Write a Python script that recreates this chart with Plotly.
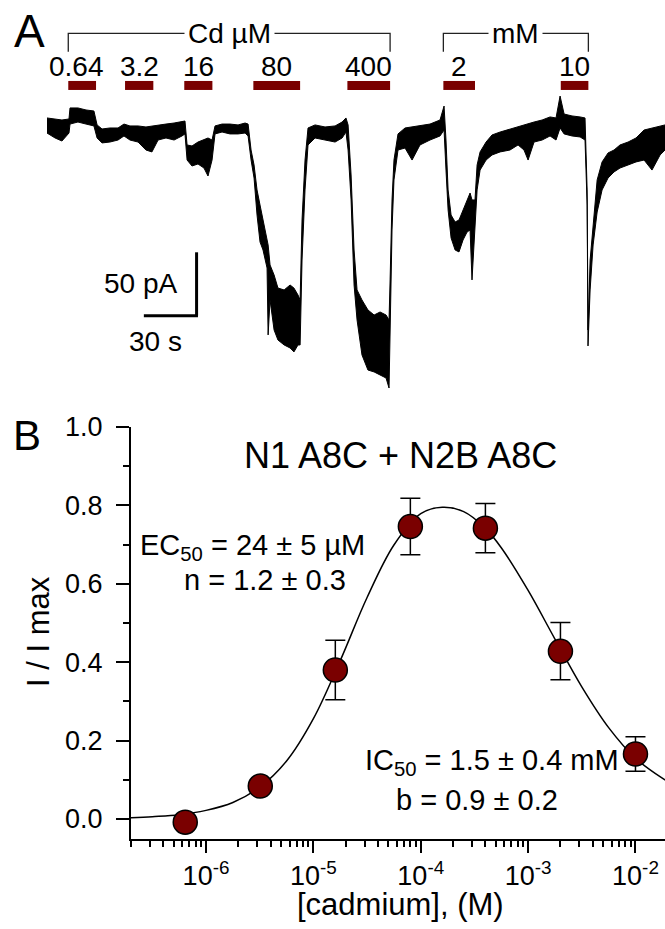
import plotly.graph_objects as go

# ---------------- Panel A: current trace (time in s, current in pA) ----------------
trace_t = [0, 4.6, 8.5, 12.5, 13.1, 17.6, 22.2, 26.7, 28.5, 31.3, 35.8, 40.4, 43.8, 47.2, 51.8, 56.3,
           59.7, 63.2, 67.7, 72.3, 76.8, 78.5, 79.7, 82.5, 85.9, 89.3, 91.6, 93.9, 95.6, 99.6, 104.1,
           108.7, 112.7, 114.4, 116.1, 117.8, 119.5, 121.2, 122.9, 125.2, 125.8, 126.9, 129.2, 131.4,
           134.9, 138.3, 140.5, 142.8, 144.0, 145.1, 146.8, 148.5, 152.5, 158.2, 163.9, 167.9, 170.1,
           171.3, 173.0, 174.7, 176.4, 179.2, 182.6, 186.1, 189.5, 192.9, 194.6, 195.2, 196.3, 197.4,
           199.7, 203.7, 207.7, 212.2, 217.9, 223.6, 225.9, 227.0, 228.2, 229.9, 232.2, 234.4, 236.7,
           239.0, 240.7, 241.8, 243.5, 244.7, 246.4, 249.8, 253.2, 257.8, 263.4, 268.0, 271.4, 273.7,
           277.1, 281.7, 286.2, 289.6, 291.9, 294.2, 298.7, 303.3, 306.1, 307.3, 307.8, 309.0, 310.7,
           313.0, 315.8, 319.2, 322.6, 326.0, 330.6, 335.1, 339.7, 344.2, 348.8, 351.6]
trace_hi = [1.6, 0.8, 0.0, 0.8, 9.5, 9.5, 7.9, 7.1, -3.9, -7.1, -6.3, -6.3, -3.2, -4.7, -4.7, -5.5,
            -4.7, -3.9, -3.2, -2.4, -0.8, -0.8, -19.7, -20.5, -17.4, -15.8, -14.2, -15.8, -4.7, -3.2, -3.2,
            -3.9, -2.4, -3.2, -23.7, -35.5, -55.2, -67.1, -78.9, -93.1, -98.6, -114.4, -122.3, -132.6,
            -134.1, -130.2, -132.6, -138.1, -142.0, -78.9, -31.6, -6.3, -3.9, -5.5, -4.7, -1.6, 1.6,
            -3.9, -43.4, -102.6, -134.1, -142.0, -149.9, -153.9, -151.5, -153.9, -157.8, -126.2, -63.1, -31.6,
            -11.0, -6.3, -5.5, -4.7, -3.2, 0.0, 11.0, -15.8, -55.2, -75.0, -80.5, -78.9, -71.0,
            -63.1, -57.6, -63.1, -63.1, -35.5, -25.2, -17.4, -11.8, -9.5, -7.1, -5.5, -3.9, -3.2,
            -1.6, 0.0, 2.4, 1.6, 18.9, 4.7, 3.2, 2.4, 1.6, -55.2, -165.7, -110.5, -85.2,
            -47.3, -33.1, -26.0, -23.7, -19.7, -17.4, -14.2, -7.9, -6.3, -4.7, -3.9]
trace_lo = [-10.3, -14.2, -16.6, -10.3, -3.2, -1.6, -3.2, -4.7, -14.2, -18.1, -17.4, -15.8, -12.6, -15.8, -17.4, -23.7,
            -25.2, -15.8, -14.2, -15.8, -12.6, -11.0, -31.6, -36.3, -34.7, -37.9, -44.2, -31.6, -11.0, -9.5, -11.0,
            -11.0, -10.3, -12.6, -31.6, -45.8, -75.0, -96.3, -102.6, -116.8, -169.6, -142.0, -165.7, -173.6,
            -177.5, -179.9, -183.0, -177.5, -177.5, -110.5, -55.2, -19.7, -14.2, -15.8, -17.4, -14.2, -9.5,
            -23.7, -63.1, -130.2, -157.8, -185.4, -197.3, -198.8, -201.2, -203.6, -211.5, -165.7, -86.8, -47.3,
            -23.7, -22.1, -31.6, -19.7, -15.8, -12.6, -7.9, -39.5, -71.0, -93.1, -102.6, -104.1, -94.7,
            -88.4, -86.8, -126.2, -82.8, -55.2, -39.5, -31.6, -27.6, -25.2, -23.7, -19.7, -23.7, -31.6,
            -17.4, -15.8, -12.6, -15.8, -6.3, -11.0, -12.6, -13.4, -15.8, -67.1, -178.3, -134.1, -98.6,
            -72.6, -55.2, -45.8, -41.0, -37.9, -35.5, -33.1, -31.6, -39.5, -27.6, -23.7]

# Cd application periods (s) and labels
app_labels = ["0.64", "3.2", "16", "80", "400", "2", "10"]
app_on = [12.1, 44.4, 78.1, 117.4, 170.9, 225.5, 292.3]
app_off = [27.9, 60.5, 94.1, 144.0, 195.2, 243.5, 308.0]
group_labels = ["Cd µM", "mM"]

scale_t = 30   # s
scale_i = 50   # pA

# ---------------- Panel B: dose response ----------------
conc_M = [0.64e-6, 3.2e-6, 16e-6, 80e-6, 400e-6, 2e-3, 10e-3]
i_rel = [-0.008, 0.084, 0.380, 0.746, 0.742, 0.428, 0.166]
i_err = [0.010, 0.010, 0.076, 0.072, 0.063, 0.073, 0.044]

fit_logc = [-6.7, -6.5, -6.25, -6.0, -5.75, -5.5, -5.25, -5.0, -4.75, -4.5, -4.25, -4.0, -3.8,
            -3.6, -3.4, -3.25, -3.0, -2.75, -2.5, -2.25, -2.0, -1.75, -1.7]
fit_rel = [0.003, 0.006, 0.011, 0.022, 0.042, 0.081, 0.148, 0.256, 0.404, 0.565, 0.699, 0.779, 0.795,
           0.784, 0.742, 0.692, 0.583, 0.459, 0.337, 0.233, 0.155, 0.104, 0.096]

xtick_vals = [1e-6, 1e-5, 1e-4, 1e-3, 1e-2]
xtick_text = ["10<sup>-6</sup>", "10<sup>-5</sup>", "10<sup>-4</sup>", "10<sup>-3</sup>", "10<sup>-2</sup>"]
ytick_vals = [0.0, 0.2, 0.4, 0.6, 0.8, 1.0]
ytick_text = ["0.0", "0.2", "0.4", "0.6", "0.8", "1.0"]

DARKRED = "#7a0000"
FONT = "Liberation Sans, Arial, sans-serif"
W, H = 665, 929


def px(x):
    return x / W


def py(y):
    return 1 - y / H


fig = go.Figure()

# trace band
fig.add_trace(go.Scatter(x=trace_t, y=trace_hi, mode="lines", line=dict(color="black", width=1),
                         xaxis="x2", yaxis="y2", hoverinfo="skip", showlegend=False))
fig.add_trace(go.Scatter(x=trace_t, y=trace_lo, mode="lines", line=dict(color="black", width=1),
                         fill="tonexty", fillcolor="black",
                         xaxis="x2", yaxis="y2", hoverinfo="skip", showlegend=False))

# fit curve
fig.add_trace(go.Scatter(x=[10 ** v for v in fit_logc], y=fit_rel, mode="lines",
                         line=dict(color="black", width=1.5, shape="spline"),
                         hoverinfo="skip", showlegend=False))
# data points
fig.add_trace(go.Scatter(x=conc_M, y=i_rel, mode="markers",
                         marker=dict(size=24, color=DARKRED, line=dict(color="black", width=1.5)),
                         error_y=dict(type="data", array=i_err, color="black", thickness=1.5, width=10),
                         showlegend=False, cliponaxis=False))

shapes = []
# application bars
bar_y0, bar_y1 = 23.7, 30.8
for on, off in zip(app_on, app_off):
    shapes.append(dict(type="rect", xref="x2", yref="y2", x0=on, x1=off, y0=bar_y0, y1=bar_y1,
                       fillcolor=DARKRED, line=dict(width=0)))

# brackets
br_lo, br_hi = 53.9, 68.4
groups = [(app_on[0], app_off[4]), (app_on[5], app_off[6])]
for (a, b) in groups:
    shapes.append(dict(type="path", xref="x2", yref="y2",
                       path=f"M {a},{br_lo} L {a},{br_hi} L {b},{br_hi} L {b},{br_lo}",
                       line=dict(color="#222222", width=1.3)))

# scale bar
sb_t, sb_i = 85.1, -154.4
shapes.append(dict(type="line", xref="x2", yref="y2", x0=sb_t - scale_t, x1=sb_t + 0.8, y0=sb_i, y1=sb_i,
                   line=dict(color="black", width=3)))
shapes.append(dict(type="line", xref="x2", yref="y2", x0=sb_t, x1=sb_t, y0=sb_i, y1=sb_i + scale_i,
                   line=dict(color="black", width=3)))

ann = []
for i, (lab, on, off) in enumerate(zip(app_labels, app_on, app_off)):
    ann.append(dict(x=(on + off) / 2, y=42.1, xref="x2", yref="y2", text=lab, showarrow=False,
                    xanchor="center", yanchor="middle", xshift=-6 if i == 0 else 0,
                    font=dict(size=28, color="black", family=FONT)))
for lab, (a, b) in zip(group_labels, groups):
    ann.append(dict(x=(a + b) / 2, y=br_hi, xref="x2", yref="y2", text=lab, showarrow=False,
                    xanchor="center", yanchor="middle", bgcolor="white", borderpad=3,
                    font=dict(size=28, color="black", family=FONT)))
ann.append(dict(x=sb_t - 10, y=sb_i + 25.6, xref="x2", yref="y2", text="50 pA", showarrow=False,
                xanchor="right", yanchor="middle", font=dict(size=28, color="black", family=FONT)))
ann.append(dict(x=sb_t - 23.3, y=sb_i - 20, xref="x2", yref="y2", text="30 s", showarrow=False,
                xanchor="center", yanchor="middle", font=dict(size=28, color="black", family=FONT)))


# panel letters and texts
def add_text(text, x, y, size, xanchor="center", angle=0):
    ann.append(dict(x=px(x), y=py(y), xref="paper", yref="paper", text=text, showarrow=False,
                    xanchor=xanchor, yanchor="middle", textangle=angle,
                    font=dict(size=size, color="black", family=FONT)))


add_text("A", 29, 31, 46)
add_text("B", 27, 436, 42)
add_text("N1 A8C + N2B A8C", 401, 455, 36)
add_text("EC<sub>50</sub> = 24 ± 5 µM", 252, 547, 29)
add_text("n = 1.2 ± 0.3", 265, 580, 29)
add_text("IC<sub>50</sub> = 1.5 ± 0.4 mM", 492, 762, 29)
add_text("b = 0.9 ± 0.2", 477, 800, 29)
add_text("[cadmium], (M)", 400, 904, 31)
add_text("I / I max", 38, 632, 31, angle=-90)

minor_x = [m * 10 ** e for e in range(-7, -1) for m in range(2, 10)]

fig.update_layout(
    width=W, height=H,
    margin=dict(l=0, r=0, t=0, b=0),
    paper_bgcolor="white", plot_bgcolor="white",
    font=dict(family=FONT, color="black"),
    showlegend=False,
    xaxis=dict(type="log", range=[-6.699, -1.725], domain=[px(131), 1], anchor="y",
               showline=True, linecolor="black", linewidth=2, mirror=False,
               ticks="outside", ticklen=12, tickwidth=2, tickcolor="black",
               tickvals=xtick_vals, ticktext=xtick_text, tickfont=dict(size=27, family=FONT),
               minor=dict(tickvals=minor_x, ticks="outside", ticklen=6, tickwidth=1.5, tickcolor="black",
                          showgrid=False),
               showgrid=False, zeroline=False, automargin=False),
    yaxis=dict(range=[-0.051, 1.0], domain=[py(839), py(427)], anchor="x",
               showline=True, linecolor="black", linewidth=2, mirror=False,
               ticks="outside", ticklen=13, tickwidth=2, tickcolor="black",
               tickvals=ytick_vals, ticktext=ytick_text, tickfont=dict(size=27, family=FONT),
               ticklabelstandoff=8,
               minor=dict(tickvals=[0.1, 0.3, 0.5, 0.7, 0.9], ticks="outside", ticklen=6, tickwidth=1.5,
                          tickcolor="black", showgrid=False),
               showgrid=False, zeroline=False, automargin=False),
    xaxis2=dict(range=[0, 351.6], domain=[px(47), 1], anchor="y2", visible=False),
    yaxis2=dict(range=[-217.0, 78.9], domain=[py(395), py(20)], anchor="x2", visible=False),
    shapes=shapes,
    annotations=ann,
)

fig.write_html("out.html", config={"displayModeBar": False},
               post_script="document.body.style.margin='0px';document.body.style.padding='0px';")
